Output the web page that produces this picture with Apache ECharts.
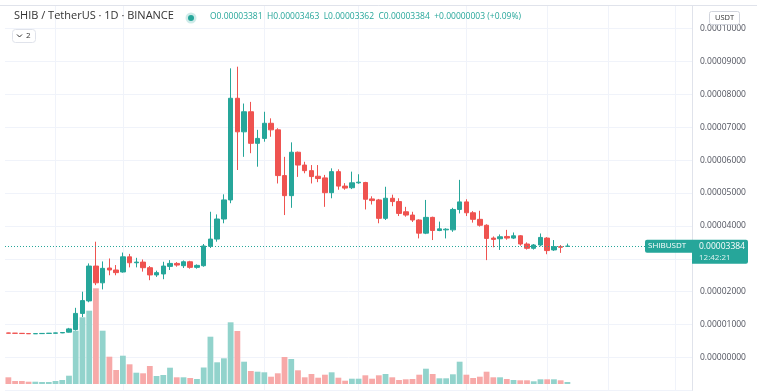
<!DOCTYPE html>
<html><head><meta charset="utf-8">
<script src="https://cdn.jsdelivr.net/npm/echarts@6/dist/echarts.min.js"></script>
<style>html,body{margin:0;padding:0;background:#fff}#c{width:757px;height:391px}</style>
</head><body><div id="c"></div>
<script>
// Daily SHIB/USDT candles, prices in units of 1e-5 USDT
const open  = [0.745,0.740,0.735,0.728,0.722,0.726,0.732,0.738,0.748,0.770,
               0.850,1.340,1.720,2.780,2.270,2.720,2.660,2.600,3.060,2.880,
               2.900,2.730,2.510,2.540,2.770,2.860,2.790,2.910,2.740,2.790,
               3.380,3.600,4.210,4.790,7.880,6.860,7.470,6.510,6.660,7.120,
               6.920,5.530,4.920,6.240,5.850,5.680,5.510,5.460,5.010,5.650,
               5.210,5.160,5.310,5.320,4.820,4.790,4.230,4.840,4.740,4.430,
               4.330,4.180,3.780,4.260,3.860,3.880,3.880,4.500,4.730,4.400,
               4.200,4.020,3.630,3.610,3.680,3.630,3.700,3.450,3.320,3.420,
               3.630,3.270,3.370,3.381];
const close = [0.740,0.735,0.728,0.722,0.726,0.732,0.738,0.748,0.760,0.870,
               1.340,1.730,2.780,2.270,2.710,2.660,2.580,3.060,2.880,2.900,
               2.730,2.510,2.580,2.780,2.860,2.810,2.910,2.740,2.800,3.390,
               3.600,4.210,4.790,7.880,6.860,7.470,6.510,6.660,7.120,6.920,
               5.530,4.920,6.240,5.850,5.680,5.500,5.440,5.010,5.650,5.210,
               5.150,5.310,5.330,4.810,4.770,4.230,4.840,4.740,4.380,4.330,
               4.180,3.780,4.260,3.860,3.910,3.900,4.500,4.730,4.400,4.200,
               4.020,3.620,3.590,3.670,3.630,3.700,3.450,3.320,3.420,3.650,
               3.250,3.370,3.350,3.384];
const low   = [0.735,0.730,0.725,0.715,0.715,0.720,0.725,0.730,0.740,0.760,
               0.820,1.230,1.680,2.200,2.070,2.500,2.500,2.580,2.740,2.740,
               2.610,2.350,2.450,2.380,2.660,2.760,2.720,2.700,2.700,2.760,
               3.330,3.520,4.080,4.690,5.700,6.100,6.210,5.800,6.560,6.710,
               5.290,4.330,4.550,5.490,5.600,5.290,5.330,4.580,4.840,5.100,
               5.100,5.120,5.280,4.500,4.650,4.080,4.180,4.600,4.300,4.280,
               4.120,3.620,3.750,3.570,3.840,3.620,3.820,4.380,4.300,4.100,
               3.980,2.960,3.350,3.270,3.580,3.600,3.400,3.280,3.280,3.380,
               3.140,3.240,3.180,3.362];
const high  = [0.750,0.745,0.740,0.735,0.730,0.735,0.745,0.755,0.770,0.900,
               1.510,2.000,2.860,3.520,2.920,3.010,2.810,3.190,3.150,3.030,
               2.980,2.780,2.640,2.910,2.960,2.900,2.950,2.940,2.830,3.450,
               4.430,4.350,4.960,8.790,8.840,7.720,7.770,6.920,7.470,7.270,
               6.970,6.100,6.540,6.260,5.950,5.850,5.850,5.550,5.750,5.720,
               5.300,5.650,5.570,5.340,4.900,4.820,5.190,4.950,4.840,4.580,
               4.430,4.200,4.790,4.280,4.130,3.930,4.550,5.400,4.810,4.450,
               4.460,4.050,3.680,3.740,3.880,3.800,3.720,3.500,3.450,3.770,
               3.660,3.570,3.420,3.463];
// Volume (relative units)
const volume = [6.7,3,3,2.3,2.3,2,2,3,4,8.3,
                53.3,66.7,73.3,95.7,53.3,27.3,14,28.3,19.7,11.3,
                10.7,18,8,9,16.3,6.7,6.7,6,5,16.5,
                47.3,21.7,25.7,61.7,53,22.3,13,12.3,11.7,7.3,
                10.7,27,25,13.7,6.7,10,6.3,9.3,11.7,6.3,
                3.3,5.3,5.3,8.7,5.3,8.7,10,6.7,4,4.7,
                5,9.3,15.3,10,5.7,5.7,9.7,22.3,9.3,6,
                7.3,12.3,6.7,6.7,5,4,3.7,3.7,2.7,4.7,
                4.7,4.7,3.7,2];
// Price tick labels shown on the right scale (×1e-5 USDT); 3 is covered by the price tag
const priceTicks = [0,1,2,4,5,6,7,8,9,10];
const timeGridDays = ['2021-10-01','2021-10-11','2021-11-01','2021-11-15','2021-12-01','2021-12-13','2021-12-22','2022-01-01'];
const lastTime = '12:42:21';
const changePct = '+0.09%';

const slots = 102;
const categories = [];
for (let i = 0; i < slots; i++) {
  const d = new Date(Date.UTC(2021, 8, 24 + i));
  categories.push(d.toISOString().slice(0, 10));
}

const FONT = '"Open Sans", "Noto Sans", sans-serif';
const UP = '#26a69a', DOWN = '#ef5350';
const VUP = '#92d3cc', VDOWN = '#f7a9a8';
const GRID = '#f0f3fa';

const candles = open.map((o, i) => [o, close[i], low[i], high[i]]);
const fmt = v => (v * 1e-5).toFixed(8);

const chart = echarts.init(document.getElementById('c'), null, {renderer: 'canvas'});
const hiddenX = (g) => ({type: 'category', gridIndex: g, data: categories, boundaryGap: true,
  axisLine: {show: false}, axisTick: {show: false}, axisLabel: {show: false}, splitLine: {show: false}});

chart.setOption({
  animation: false,
  backgroundColor: '#ffffff',
  grid: [
    {left: 5, right: 65, top: 5.5, bottom: 0.6},
    {left: 5, right: 65, bottom: 7, height: 100}
  ],
  xAxis: [hiddenX(0), hiddenX(1)],
  yAxis: [
    {type: 'value', gridIndex: 0, position: 'right', min: -1, max: 10.7, interval: 1,
     axisLine: {show: true, lineStyle: {color: '#e0e3eb'}}, axisTick: {show: false},
     axisLabel: {margin: 8, color: '#50535e', fontSize: 8.5, fontFamily: FONT,
       formatter: v => { const r = Math.round(v);
         if (Math.abs(v - r) > 1e-6 || priceTicks.indexOf(r) < 0) return ''; return fmt(r); }},
     splitLine: {show: true, lineStyle: {color: GRID, width: 1}}},
    {type: 'value', gridIndex: 1, min: 0, max: 100, show: false, splitLine: {show: false}}
  ],
  series: [
    {type: 'line', xAxisIndex: 0, yAxisIndex: 0, data: [], z: 0, silent: true,
     markLine: {z: 0, silent: true, symbol: ['none', 'none'], label: {show: false},
       lineStyle: {color: GRID, type: 'solid', width: 1},
       data: timeGridDays.map(d => ({xAxis: d}))}},
    {type: 'bar', xAxisIndex: 1, yAxisIndex: 1, z: 1, barCategoryGap: '14%',
     data: volume.map((v, i) => ({value: v, itemStyle: {color: close[i] >= open[i] ? VUP : VDOWN}}))},
    {type: 'candlestick', xAxisIndex: 0, yAxisIndex: 0, z: 3, barWidth: 5, data: candles,
     itemStyle: {color: UP, color0: DOWN, borderColor: UP, borderColor0: DOWN, borderWidth: 1},
     markLine: {silent: true, symbol: ['none', 'none'], label: {show: false},
       lineStyle: {color: UP, type: [1, 2], width: 1},
       data: [{yAxis: close[close.length - 1]}]}}
  ]
});

const n = close.length - 1;
const last = close[n];
const yPx = chart.convertToPixel({yAxisIndex: 0}, last);
const chg = last - open[n];
const ohlc = 'O' + fmt(open[n]) + '  H' + fmt(high[n]) + '  L' + fmt(low[n]) + '  C' + fmt(last) +
  '  ' + (chg >= 0 ? '+' : '') + fmt(chg) + ' (' + changePct + ')';

const Z = 100;
chart.setOption({graphic: [
  {type: 'line', z: Z, shape: {x1: 0, y1: 5.5, x2: 757, y2: 5.5}, style: {stroke: '#e0e3eb', lineWidth: 1}},
  {type: 'text', z: Z, left: 14, top: 10.5, style: {text: 'SHIB / TetherUS · 1D · BINANCE', fill: '#333', font: '11px ' + FONT}},
  {type: 'circle', z: Z, shape: {cx: 191, cy: 18, r: 5.5}, style: {fill: 'rgba(38,166,154,0.22)'}},
  {type: 'circle', z: Z, shape: {cx: 191, cy: 18, r: 3}, style: {fill: UP}},
  {type: 'text', z: Z, left: 210, top: 12, style: {text: ohlc, fill: UP, font: '8.5px ' + FONT}},
  {type: 'rect', z: Z, shape: {x: 12.5, y: 29.5, width: 23, height: 13, r: 3}, style: {fill: '#fff', stroke: '#e0e3eb', lineWidth: 1}},
  {type: 'polyline', z: Z, shape: {points: [[17, 34.5], [19.5, 37], [22, 34.5]]}, style: {stroke: '#333', lineWidth: 1, fill: null}},
  {type: 'text', z: Z, x: 26, y: 36, style: {text: '2', fill: '#333', font: '8px ' + FONT, verticalAlign: 'middle'}},
  {type: 'rect', z: Z, shape: {x: 709.5, y: 11.5, width: 30, height: 13, r: 2}, style: {fill: '#fff', stroke: '#d1d4dc', lineWidth: 1}},
  {type: 'text', z: Z, x: 724.5, y: 18, style: {text: 'USDT', fill: '#333', font: '7.5px ' + FONT, align: 'center', verticalAlign: 'middle'}},
  {type: 'rect', z: Z, shape: {x: 645, y: yPx - 6.5, width: 47, height: 13, r: [2, 0, 0, 2]}, style: {fill: UP}},
  {type: 'text', z: Z, x: 648, y: yPx, style: {text: 'SHIBUSDT', fill: '#fff', font: '8px ' + FONT, verticalAlign: 'middle'}},
  {type: 'rect', z: Z, shape: {x: 692, y: yPx - 6.5, width: 56, height: 24, r: [0, 2, 2, 0]}, style: {fill: UP}},
  {type: 'text', z: Z, x: 699, y: yPx, style: {text: fmt(last), fill: '#fff', font: '8.5px ' + FONT, verticalAlign: 'middle'}},
  {type: 'text', z: Z, x: 699, y: yPx + 11.5, style: {text: lastTime, fill: 'rgba(255,255,255,0.85)', font: '8px ' + FONT, verticalAlign: 'middle'}}
]});
</script></body></html>
